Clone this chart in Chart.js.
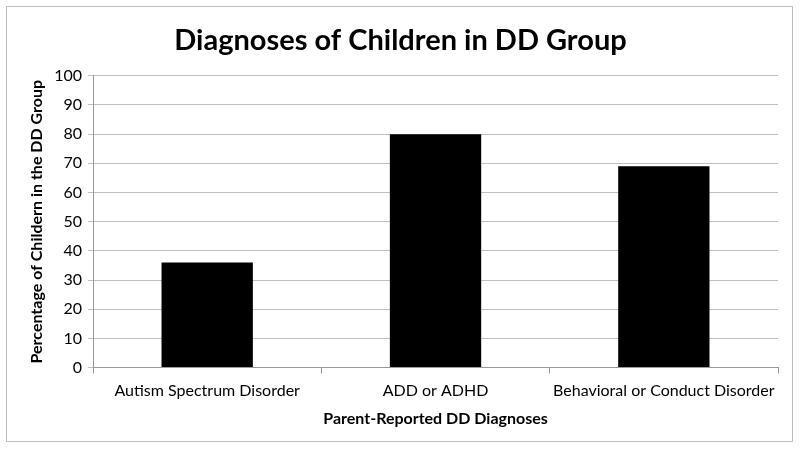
<!DOCTYPE html>
<html><head><meta charset="utf-8">
<script src="https://cdn.jsdelivr.net/npm/chart.js@4"></script>
<style>html,body{margin:0;padding:0;background:#fff}#wrap{width:800px;height:451px}</style>
</head><body><div id="wrap"><canvas id="c" width="800" height="451"></canvas></div>
<script>
const categories = ["Autism Spectrum Disorder", "ADD or ADHD", "Behavioral or Conduct Disorder"];
const percentages = [36, 80, 69];
const titleText = "Diagnoses of Children in DD Group";
const xTitle = "Parent-Reported DD Diagnoses";
const yTitle = "Percentage of Childern in the DD Group";

const frame = {
  id: 'frame',
  beforeDraw(chart) {
    const ctx = chart.ctx;
    ctx.save();
    ctx.fillStyle = '#fff';
    ctx.fillRect(0, 0, chart.width, chart.height);
    ctx.strokeStyle = '#bdbdbd';
    ctx.lineWidth = 1;
    ctx.strokeRect(6.5, 6.5, 786, 435);
    ctx.restore();
  }
};

new Chart(document.getElementById('c'), {
  type: 'bar',
  data: { labels: categories, datasets: [{ data: percentages, backgroundColor: '#000', borderWidth: 0, categoryPercentage: 1, barPercentage: 0.4 }] },
  options: {
    responsive: false, animation: false, devicePixelRatio: 1,
    layout: { padding: { left: 23, right: 22, top: 15, bottom: 19 } },
    plugins: {
      legend: { display: false }, tooltip: { enabled: false },
      title: { display: true, text: titleText, color: '#000', font: { family: 'Lato', size: 29, weight: 'bold' }, padding: { top: 8, bottom: 18 } }
    },
    scales: {
      x: {
        grid: { drawOnChartArea: false, drawTicks: true, tickLength: 6, color: '#999', offset: true },
        border: { color: '#999' },
        ticks: { color: '#000', font: { family: 'Lato', size: 16 }, padding: 8, maxRotation: 0 },
        title: { display: true, text: xTitle, color: '#000', font: { family: 'Lato', size: 16, weight: 'bold' }, padding: { top: 0 } }
      },
      y: {
        min: 0, max: 100,
        grid: { color: '#bfbfbf', tickLength: 5 },
        border: { color: '#999' },
        ticks: { stepSize: 10, color: '#000', font: { family: 'Lato', size: 16 }, padding: 6 },
        title: { display: true, text: yTitle, color: '#000', font: { family: 'Lato', size: 16, weight: 'bold' }, padding: { bottom: 2 } }
      }
    }
  },
  plugins: [frame]
});
</script></body></html>
